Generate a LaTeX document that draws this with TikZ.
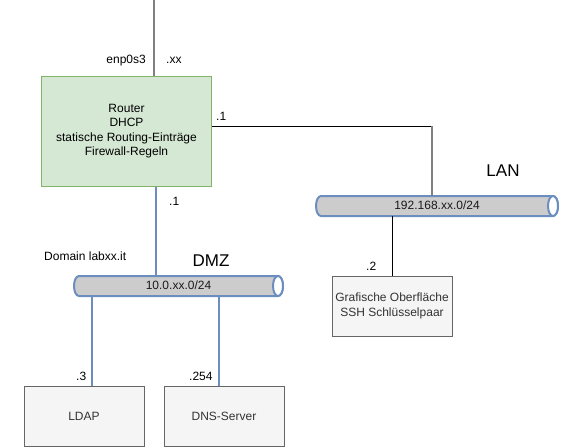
\documentclass[tikz,border=0pt]{standalone}
\usepackage{fontspec}
\setmainfont{Liberation Sans}
\begin{document}
\begin{tikzpicture}[x=1pt,y=-1pt,
  router/.style={draw=routerstroke,fill=routerfill,line width=1pt,align=center,font=\fontsize{12}{14.5}\selectfont,inner sep=0pt},
  host/.style={draw=hoststroke,fill=hostfill,line width=1pt,align=center,text=hosttext,font=\fontsize{12}{14.5}\selectfont,inner sep=0pt},
  lbl/.style={font=\fontsize{12}{14}\selectfont,inner sep=0pt},
  netlbl/.style={font=\fontsize{17}{20}\selectfont,inner sep=0pt},
  bustext/.style={font=\fontsize{12}{14}\selectfont,inner sep=0pt,text=bustextc},
  busline/.style={draw=busstroke,line width=2pt},
  grayline/.style={draw=linegray,line width=2pt},
  blackline/.style={draw=black,line width=1pt},
  blueline/.style={draw=busstroke,line width=2pt}
]
\definecolor{routerfill}{HTML}{D5E8D4}
\definecolor{routerstroke}{HTML}{82B366}
\definecolor{hostfill}{HTML}{F5F5F5}
\definecolor{hoststroke}{HTML}{666666}
\definecolor{hosttext}{HTML}{333333}
\definecolor{busfill}{HTML}{CCCCCC}
\definecolor{busstroke}{HTML}{6C8EBF}
\definecolor{linegray}{HTML}{808080}
\definecolor{bustextc}{HTML}{1A1A1A}
\useasboundingbox (0,0) rectangle (562,447);

% Router
\node[router,minimum width=170pt,minimum height=110pt] (router) at (126.5,131) {Router\\DHCP\\statische Routing-Einträge\\Firewall-Regeln};
\coordinate (top) at (154,0);
\coordinate (rtop) at (154,76);
\draw[grayline] (top) -- (rtop);
\node[lbl,anchor=east] (enp) at (146,60.5) {enp0s3};
\node[lbl,anchor=west] (xx) at (166,60.5) {.xx};

% LAN bus
\def\L{316}\def\R{558}\def\T{196}\def\B{216}
\path[fill=busfill,busline] (\L+5,\T) -- (\R-5,\T) arc[start angle=-90,end angle=90,x radius=5,y radius=10] -- (\L+5,\B) arc[start angle=90,end angle=270,x radius=5,y radius=10] -- cycle;
\path[fill=white,busline] (\R-5,206) ellipse[x radius=5,y radius=10];
\node[bustext] (lan) at (437,205.5) {192.168.xx.0/24};
\node[netlbl] (lanlbl) at (503,170.5) {LAN};
\coordinate (corner) at (432,126);
\coordinate (lantop) at (432,196);
\draw[blackline] (router.east |- corner) -- (corner);
\draw[grayline] (corner) -- (lantop);
\node[lbl,anchor=west] (r1) at (216,116) {.1};

% Grafische
\node[host,minimum width=120pt,minimum height=60pt] (gui) at (392,306) {Grafische Oberfläche\\SSH Schlüsselpaar};
\coordinate (lanbot) at (392,216);
\draw[blackline] (lanbot) -- (gui.north);
\node[lbl,anchor=west] (l2) at (366,266) {.2};

% DMZ bus
\def\L{74}\def\R{283}\def\T{276}\def\B{296}
\path[fill=busfill,busline] (\L+5,\T) -- (\R-5,\T) arc[start angle=-90,end angle=90,x radius=5,y radius=10] -- (\L+5,\B) arc[start angle=90,end angle=270,x radius=5,y radius=10] -- cycle;
\path[fill=white,busline] (\R-5,286) ellipse[x radius=5,y radius=10];
\node[bustext] (dmz) at (178.5,285.5) {10.0.xx.0/24};
\node[netlbl] (dmzlbl) at (211,261) {DMZ};
\node[lbl,anchor=west] (domain) at (44,256) {Domain labxx.it};
\coordinate (dmztop) at (156,276);
\draw[blueline] (router.south -| dmztop) -- (dmztop);
\node[lbl,anchor=west] (r2) at (169,201) {.1};

% LDAP and DNS
\node[host,minimum width=120pt,minimum height=60pt] (ldap) at (84,416) {LDAP};
\node[host,minimum width=120pt,minimum height=60pt] (dns) at (224,416) {DNS-Server};
\coordinate (ldapb) at (92,296);
\coordinate (dnsb) at (219,296);
\draw[blueline] (ldapb) -- (ldap.north -| ldapb);
\draw[blueline] (dnsb) -- (dns.north -| dnsb);
\node[lbl,anchor=west] (l3) at (76,376) {.3};
\node[lbl,anchor=west] (l254) at (189,376) {.254};
\end{tikzpicture}
\end{document}
